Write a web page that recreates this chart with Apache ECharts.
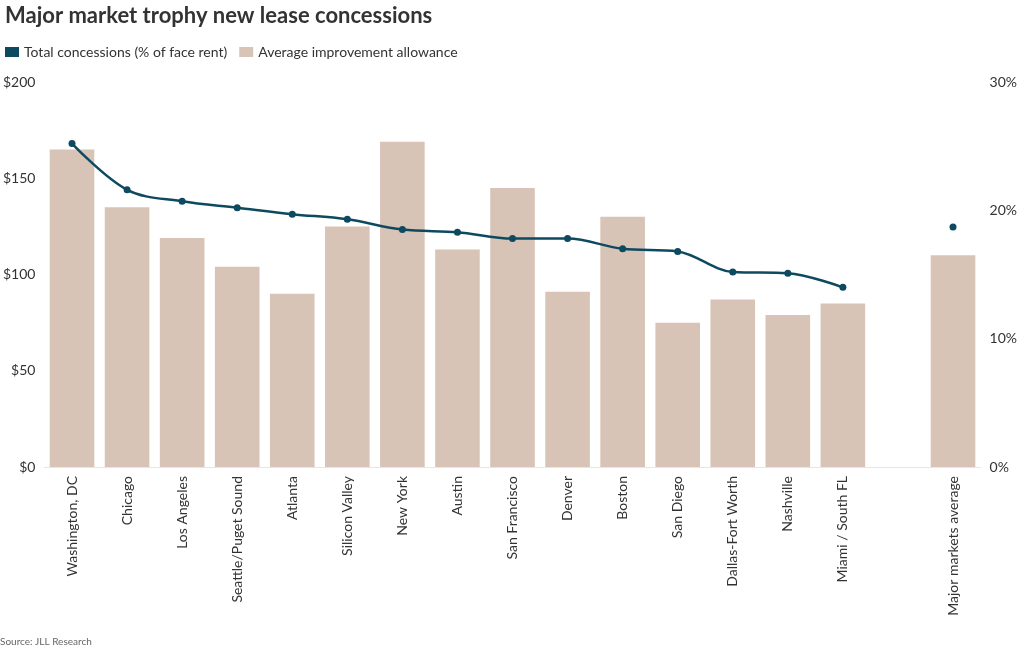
<!DOCTYPE html>
<html>
<head>
<meta charset="utf-8">
<script src="https://cdn.jsdelivr.net/npm/echarts@6/dist/echarts.min.js"></script>
<style>
html,body{margin:0;padding:0;background:#fff;}
#chart{width:1020px;height:650px;}
</style>
</head>
<body>
<div id="chart"></div>
<script>
const categories = ["Washington, DC","Chicago","Los Angeles","Seattle/Puget Sound","Atlanta","Silicon Valley","New York","Austin","San Francisco","Denver","Boston","San Diego","Dallas-Fort Worth","Nashville","Miami / South FL","","Major markets average"];
const allowance = [165,135,119,104,90,125,169,113,145,91,130,75,87,79,85,null,110];
const concessions = [25.2,21.6,20.7,20.2,19.7,19.3,18.5,18.3,17.8,17.8,17.0,16.8,15.2,15.1,14.0,null,18.7];
const leftTicks = [0,50,100,150,200];
const rightTicks = [0,10,20,30];

const FONT = 'Lato';
const chart = echarts.init(document.getElementById('chart'));
chart.setOption({
  animation:false,
  textStyle:{fontFamily:FONT},
  title:{
    text:'Major market trophy new lease concessions',
    left:0, top:0,
    textStyle:{fontFamily:FONT,fontSize:22,fontWeight:'bold',color:'#333'}
  },
  legend:{
    left:0, top:40,
    itemWidth:14, itemHeight:10, itemGap:12,
    textStyle:{fontFamily:FONT,fontSize:14,color:'#333'},
    data:[
      {name:'Total concessions (% of face rent)', icon:'rect', itemStyle:{color:'#0e4a5f'}},
      {name:'Average improvement allowance', icon:'rect', itemStyle:{color:'#d8c4b6'}}
    ]
  },
  grid:{left:40,right:37,top:82,bottom:183,containLabel:false},
  xAxis:{
    type:'category',
    data:categories,
    axisLine:{lineStyle:{color:'#e6e6e6'}},
    axisTick:{show:false},
    axisLabel:{rotate:90,interval:0,fontFamily:FONT,fontSize:14,color:'#333',margin:9}
  },
  yAxis:[
    {type:'value',min:leftTicks[0],max:leftTicks[leftTicks.length-1],interval:50,
     splitLine:{show:false},axisLine:{show:false},axisTick:{show:false},
     axisLabel:{formatter:v=>'$'+v,fontFamily:FONT,fontSize:14,color:'#333',margin:9}},
    {type:'value',min:rightTicks[0],max:rightTicks[rightTicks.length-1],interval:10,
     splitLine:{show:false},axisLine:{show:false},axisTick:{show:false},
     axisLabel:{formatter:v=>v+'%',fontFamily:FONT,fontSize:14,color:'#333',margin:9}}
  ],
  series:[
    {name:'Average improvement allowance',type:'bar',yAxisIndex:0,data:allowance,
     barCategoryGap:'19%',itemStyle:{color:'#d8c4b6'},z:1},
    {name:'Total concessions (% of face rent)',type:'line',yAxisIndex:1,data:concessions,
     smooth:0.35,connectNulls:false,symbol:'circle',symbolSize:7,
     lineStyle:{color:'#0e4a5f',width:2.5},itemStyle:{color:'#0e4a5f'},z:3}
  ],
  graphic:[{type:'text',left:0,top:637,style:{text:'Source: JLL Research',fontFamily:FONT,fontSize:10,fill:'#666'}}]
});
</script>
</body>
</html>
